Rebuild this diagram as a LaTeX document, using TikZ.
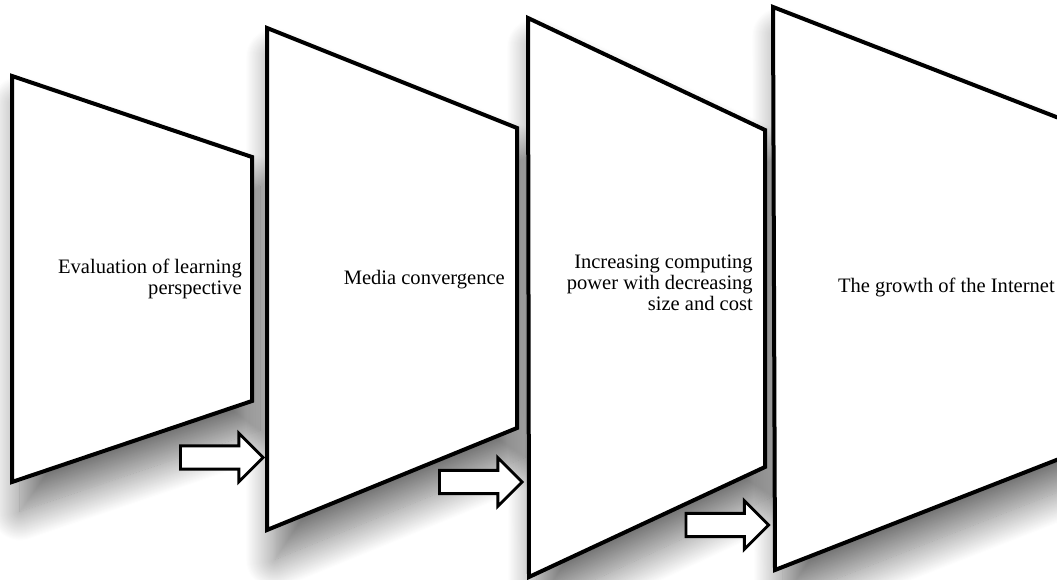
\documentclass[tikz,border=0pt]{standalone}
\usepackage{fontspec}
\setmainfont{Liberation Serif}
\usetikzlibrary{shapes.arrows,shadows.blur}
\newcommand{\panelone}{(12,76) -- (252,157) -- (252,401) -- (12,482) -- cycle}
\newcommand{\paneltwo}{(267,28) -- (517,128) -- (517,428) -- (267,530) -- cycle}
\newcommand{\panelthree}{(528,18) -- (765,130) -- (765,467) -- (529,577) -- cycle}
\newcommand{\panelfour}{(773,7) -- (1100,134) -- (1100,443) -- (775,570) -- cycle}

\begin{document}
\begin{tikzpicture}[
  x=0.75pt, y=-0.75pt,
  panelshadow/.style={blur shadow={shadow xshift=6pt, shadow yshift=-22pt,
      shadow blur radius=22pt, shadow blur steps=30, shadow opacity=55}},
  panel/.style={draw, line width=3pt, fill=white},
  paneltext/.style={align=right, inner sep=0pt,
    font=\fontsize{15.4}{15.9}\selectfont},
  blockarr/.style={single arrow, draw, line width=2.2pt, fill=white,
    single arrow head extend=9.5pt, inner xsep=0pt, inner ysep=7.6pt,
    minimum height=62pt, minimum width=34pt}
]
  \useasboundingbox (0,0) rectangle (1057,580);
  % shadows first, then the panels back to front
  \path[panelshadow] \panelone;
  \path[panelshadow] \paneltwo;
  \path[panelshadow] \panelthree;
  \path[panelshadow] \panelfour;
  \draw[panel] \panelone;
  \draw[panel] \paneltwo;
  \draw[panel] \panelthree;
  \draw[panel] \panelfour;
  % texts
  \node[paneltext, anchor=east] (eval) at (242,279)
    {Evaluation of learning\\perspective};
  \node[paneltext, anchor=base east] (media) at (505,285) {Media convergence};
  \node[paneltext, anchor=east] (comp) at (753,283)
    {Increasing computing\\power with decreasing\\size and cost};
  \node[paneltext, anchor=base east] (net) at (1055,293) {The growth of the Internet};
  % arrows between panels
  \node[blockarr] (a1) at (216,457.5) {};
  \node[blockarr] (a2) at (475,482) {};
  \node[blockarr] (a3) at (721.5,525) {};
\end{tikzpicture}
\end{document}
